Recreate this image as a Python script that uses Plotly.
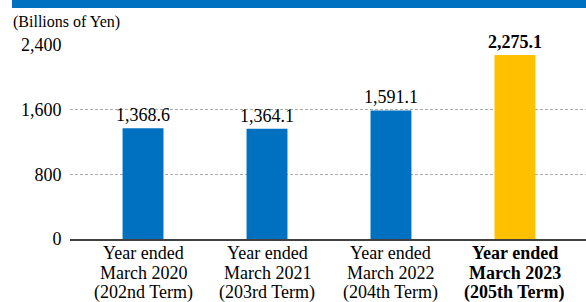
import plotly.graph_objects as go

cat_line1 = ["Year ended", "Year ended", "Year ended", "Year ended"]
cat_line2 = ["March 2020", "March 2021", "March 2022", "March 2023"]
cat_line3 = ["(202nd Term)", "(203rd Term)", "(204th Term)", "(205th Term)"]
cat_bold = [False, False, False, True]
values = [1368.6, 1364.1, 1591.1, 2275.1]
value_labels = ["1,368.6", "1,364.1", "1,591.1", "<b>2,275.1</b>"]
colors = ["#0070C0", "#0070C0", "#0070C0", "#FFC000"]
y_ticks = [0, 800, 1600, 2400]
y_tick_labels = ["0", "800", "1,600", "2,400"]

FONT = "Liberation Serif"

fig = go.Figure()
fig.add_trace(go.Bar(
    x=list(range(len(values))), y=values,
    marker=dict(color=colors, line=dict(width=0)),
    width=0.33,
    text=value_labels, textposition="outside", constraintext="none",
    textfont=dict(family=FONT, size=18, color="#000000"),
    cliponaxis=False, hoverinfo="skip",
))

L, R, T, B = 70, 0, 45, 63
W, H = 586, 302
pw, ph = W - L - R, H - T - B

def px_x(x):
    return (x - L) / pw

def px_y(y):
    return (H - B - y) / ph

annotations = [dict(text="(Billions of Yen)", xref="paper", yref="paper",
                    x=px_x(11), y=px_y(22), xanchor="left", yanchor="middle",
                    showarrow=False, font=dict(family=FONT, size=16, color="#000000"))]
line_centers = [253, 272.5, 292]
for i in range(len(values)):
    for lines, yc in zip((cat_line1, cat_line2, cat_line3), line_centers):
        t = lines[i]
        if cat_bold[i]:
            t = "<b>" + t + "</b>"
        annotations.append(dict(text=t, xref="x", yref="paper", x=i, y=px_y(yc),
                                xanchor="center", yanchor="middle", showarrow=False,
                                font=dict(family=FONT, size=18, color="#000000")))

fig.update_layout(
    width=W, height=H,
    margin=dict(l=L, r=R, t=T, b=B, pad=0),
    paper_bgcolor="white", plot_bgcolor="white",
    showlegend=False,
    font=dict(family=FONT, size=16, color="#000000"),
    xaxis=dict(
        tickmode="array", tickvals=list(range(len(values))), ticktext=["", "", "", ""],
        range=[-0.589, 3.573], showgrid=False, zeroline=False,
        showline=True, linecolor="#404040", linewidth=2,
        ticks="", fixedrange=True, showticklabels=False,
    ),
    yaxis=dict(
        range=[0, 2400], tickmode="array", tickvals=y_ticks, ticktext=y_tick_labels,
        showgrid=True, gridcolor="#ABABAB", gridwidth=1, griddash="3px,2px",
        zeroline=False, showline=False, fixedrange=True,
        ticks="outside", ticklen=4, tickcolor="rgba(0,0,0,0)",
        tickfont=dict(family=FONT, size=18, color="#000000"),
    ),
    shapes=[dict(type="rect", xref="paper", yref="paper",
                 x0=px_x(12), x1=px_x(586), y0=px_y(8), y1=px_y(0),
                 fillcolor="#0070C0", line=dict(width=0), layer="above")],
    annotations=annotations,
)

fig.write_html("out.html", config={"displayModeBar": False},
               post_script="document.body.style.margin='0';document.body.style.overflow='hidden';")
